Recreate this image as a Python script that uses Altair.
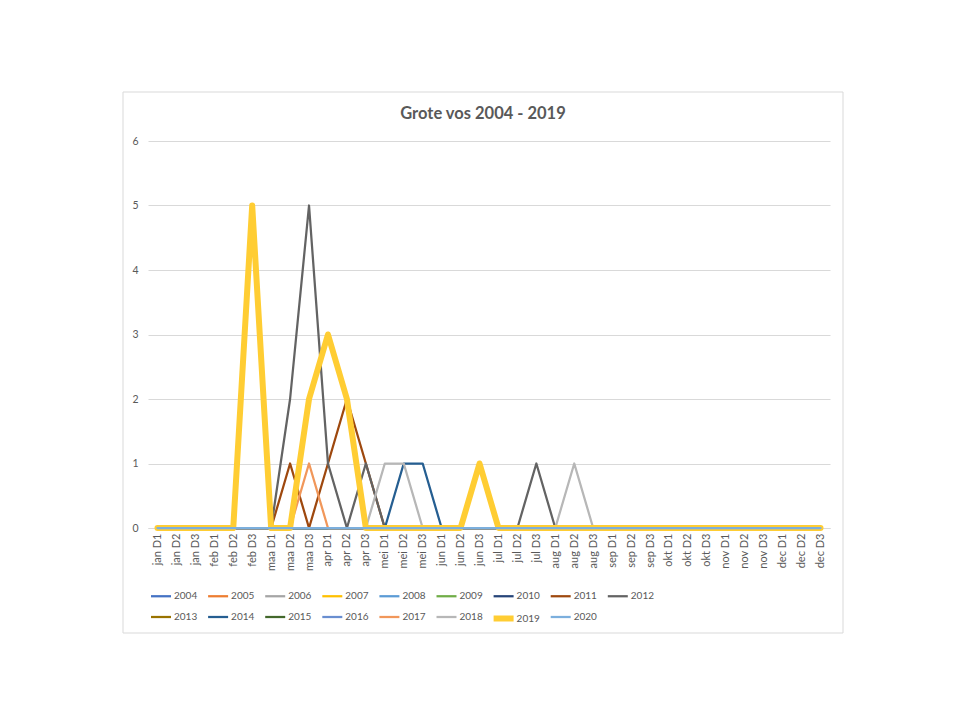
import altair as alt
import pandas as pd

periods = ["jan D1", "jan D2", "jan D3", "feb D1", "feb D2", "feb D3",
           "maa D1", "maa D2", "maa D3", "apr D1", "apr D2", "apr D3",
           "mei D1", "mei D2", "mei D3", "jun D1", "jun D2", "jun D3",
           "jul D1", "jul D2", "jul D3", "aug D1", "aug D2", "aug D3",
           "sep D1", "sep D2", "sep D3", "okt D1", "okt D2", "okt D3",
           "nov D1", "nov D2", "nov D3", "dec D1", "dec D2", "dec D3"]

years = ["2004", "2005", "2006", "2007", "2008", "2009", "2010", "2011", "2012",
         "2013", "2014", "2015", "2016", "2017", "2018", "2019", "2020"]

v2004 = [0,0,0,0,0,0, 0,0,0,0,0,0, 0,0,0,0,0,0, 0,0,0,0,0,0, 0,0,0,0,0,0, 0,0,0,0,0,0]
v2005 = [0,0,0,0,0,0, 0,0,0,0,0,0, 0,0,0,0,0,0, 0,0,0,0,0,0, 0,0,0,0,0,0, 0,0,0,0,0,0]
v2006 = [0,0,0,0,0,0, 0,0,0,0,0,0, 0,0,0,0,0,0, 0,0,0,0,0,0, 0,0,0,0,0,0, 0,0,0,0,0,0]
v2007 = [0,0,0,0,0,0, 0,0,0,0,0,0, 0,0,0,0,0,0, 0,0,0,0,0,0, 0,0,0,0,0,0, 0,0,0,0,0,0]
v2008 = [0,0,0,0,0,0, 0,0,0,0,0,0, 0,0,0,0,0,0, 0,0,0,0,0,0, 0,0,0,0,0,0, 0,0,0,0,0,0]
v2009 = [0,0,0,0,0,0, 0,0,0,0,0,0, 0,0,0,0,0,0, 0,0,0,0,0,0, 0,0,0,0,0,0, 0,0,0,0,0,0]
v2010 = [0,0,0,0,0,0, 0,0,0,0,0,0, 0,0,0,0,0,0, 0,0,0,0,0,0, 0,0,0,0,0,0, 0,0,0,0,0,0]
v2011 = [0,0,0,0,0,0, 0,1,0,1,2,1, 0,0,0,0,0,0, 0,0,0,0,0,0, 0,0,0,0,0,0, 0,0,0,0,0,0]
v2012 = [0,0,0,0,0,0, 0,2,5,1,0,1, 0,0,0,0,0,0, 0,0,1,0,0,0, 0,0,0,0,0,0, 0,0,0,0,0,0]
v2013 = [0,0,0,0,0,0, 0,0,0,0,0,0, 0,0,0,0,0,0, 0,0,0,0,0,0, 0,0,0,0,0,0, 0,0,0,0,0,0]
v2014 = [0,0,0,0,0,0, 0,0,0,0,0,0, 0,1,1,0,0,0, 0,0,0,0,0,0, 0,0,0,0,0,0, 0,0,0,0,0,0]
v2015 = [0,0,0,0,0,0, 0,0,0,0,0,0, 0,0,0,0,0,0, 0,0,0,0,0,0, 0,0,0,0,0,0, 0,0,0,0,0,0]
v2016 = [0,0,0,0,0,0, 0,0,0,0,0,0, 0,0,0,0,0,0, 0,0,0,0,0,0, 0,0,0,0,0,0, 0,0,0,0,0,0]
v2017 = [0,0,0,0,0,0, 0,0,1,0,0,0, 0,0,0,0,0,0, 0,0,0,0,0,0, 0,0,0,0,0,0, 0,0,0,0,0,0]
v2018 = [0,0,0,0,0,0, 0,0,0,0,0,0, 1,1,0,0,0,0, 0,0,0,0,1,0, 0,0,0,0,0,0, 0,0,0,0,0,0]
v2019 = [0,0,0,0,0,5, 0,0,2,3,2,0, 0,0,0,0,0,1, 0,0,0,0,0,0, 0,0,0,0,0,0, 0,0,0,0,0,0]
v2020 = [0,0,0,0,0,0, 0,0,0,0,0,0, 0,0,0,0,0,0, 0,0,0,0,0,0, 0,0,0,0,0,0, 0,0,0,0,0,0]

series = [v2004, v2005, v2006, v2007, v2008, v2009, v2010, v2011, v2012,
          v2013, v2014, v2015, v2016, v2017, v2018, v2019, v2020]

colors = ["#4472C4", "#ED7D31", "#A5A5A5", "#FFC000", "#5B9BD5", "#70AD47",
          "#264478", "#9E480E", "#636363", "#997300", "#255E91", "#43682B",
          "#698ED0", "#F1975A", "#B7B7B7", "#FFCD33", "#7CAFDD"]
widths = [2.25] * 15 + [6, 2.25]

title_text = "Grote vos 2004 - 2019"

rows = []
for y, vals in zip(years, series):
    for p, v in zip(periods, vals):
        rows.append({"year": y, "period": p, "value": v})
df = pd.DataFrame(rows)

W, H = 682, 387
FONT = "Lato"
GREY = "#595959"

legend = alt.Legend(
    title=None, orient="none", legendX=0, legendY=439.5, columns=9, direction="horizontal",
    symbolType="stroke", symbolSize=400, labelFont=FONT, labelFontSize=10,
    labelColor=GREY, columnPadding=-1.9, rowPadding=-7, labelOffset=0,
    padding=0, gridAlign="all",
)

frame = alt.Chart(pd.DataFrame({"f": [1]})).mark_rect(
    fill="white", fillOpacity=0, stroke="#D9D9D9", strokeWidth=1
).encode(
    x=alt.value(-25), x2=alt.value(695), y=alt.value(-49), y2=alt.value(492)
)

title = alt.Chart(pd.DataFrame({"t": [title_text]})).mark_text(
    font=FONT, fontSize=16.5, fontWeight="bold", color=GREY, align="center", baseline="middle"
).encode(
    text="t:N", x=alt.value(335), y=alt.value(-27)
)

lines = alt.Chart(df).mark_line(strokeJoin="round", strokeCap="round").encode(
    x=alt.X("period:N", sort=periods, scale=alt.Scale(type="point", padding=0.5),
            axis=alt.Axis(title=None, labelAngle=-90, labelFont=FONT, labelFontSize=11,
                          labelColor=GREY, ticks=False, domainColor="#D9D9D9",
                          labelPadding=5, grid=False, labelBaseline="middle", labelAlign="right")),
    y=alt.Y("value:Q", scale=alt.Scale(domain=[0, 6], nice=False),
            axis=alt.Axis(title=None, values=[0, 1, 2, 3, 4, 5, 6], labelFont=FONT,
                          labelFontSize=10.5, labelColor=GREY, ticks=False, domain=False,
                          gridColor="#D9D9D9", labelPadding=10)),
    color=alt.Color("year:O", scale=alt.Scale(type="ordinal", domain=years, range=colors), legend=legend),
    strokeWidth=alt.StrokeWidth("year:O", scale=alt.Scale(type="ordinal", domain=years, range=widths), legend=legend),
)

chart = alt.layer(frame, lines, title).properties(
    width=W, height=H,
    padding={"left": 114, "top": 83, "right": 5, "bottom": 5},
).configure_view(stroke=None)

chart.save("out.html", embed_options={"renderer": "svg", "actions": False})
